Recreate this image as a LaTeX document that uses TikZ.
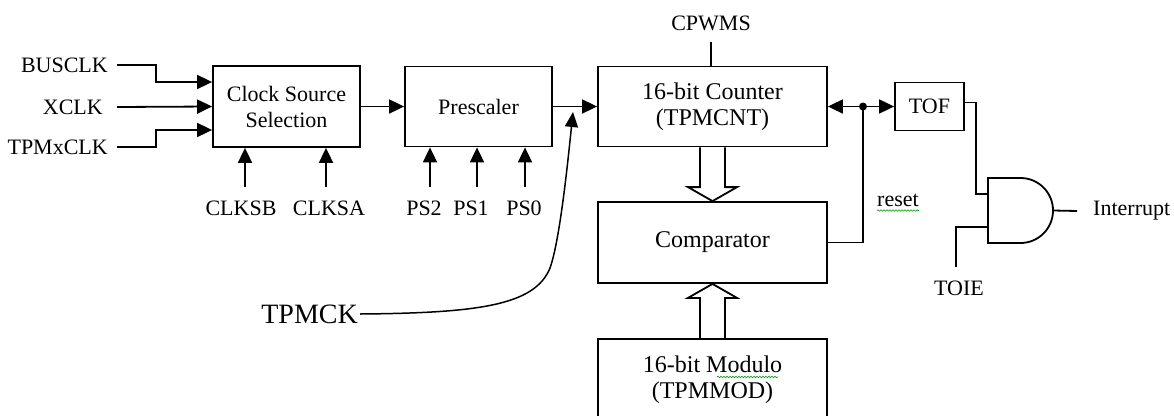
\documentclass[tikz,border=0pt]{standalone}
\usepackage{fontspec}
\setmainfont{Liberation Serif}
\usetikzlibrary{arrows.meta,calc,decorations.pathmorphing}
\begin{document}
\begin{tikzpicture}[x=1pt,y=-1pt,
  lw/.style={line width=1.8pt},
  blk/.style={draw,lw,inner sep=0pt,align=center,font=\fontsize{22}{26}\selectfont},
  bigblk/.style={blk,font=\fontsize{24}{26}\selectfont},
  lbl/.style={inner sep=0pt,font=\fontsize{22}{26}\selectfont},
  arr/.style={lw,-{Triangle[length=15pt,width=14pt]}},
  wire/.style={lw},
  hollow/.style={lw,line join=miter},
  squig/.style={draw=green!60!black,line width=0.6pt,decorate,decoration={snake,amplitude=0.8pt,segment length=3pt}}
]
\useasboundingbox (0,0) rectangle (1174,415);

% blocks
\node[blk,minimum width=147pt,minimum height=81pt] (css) at (286.5,106.5) {Clock Source\\Selection};
\node[blk,minimum width=147pt,minimum height=80pt] (pre) at (478.5,106.5) {Prescaler};
\node[bigblk,minimum width=229pt,minimum height=80pt] (cnt) at (712.5,106.5) {16-bit Counter\\(TPMCNT)};
\node[bigblk,minimum width=229pt,minimum height=81pt] (cmp) at (712.5,242.5) {Comparator};
\node[bigblk,minimum width=229pt,minimum height=81pt] (mod) at (712.5,379.5) {16-bit Modulo\\(TPMMOD)};
\node[blk,minimum width=69pt,minimum height=48pt] (tof) at (929.5,106.5) {TOF};

% input labels
\node[lbl,anchor=east,inner xsep=9pt] (bus) at (117,65) {BUSCLK};
\node[lbl,anchor=east,inner xsep=14pt] (xclk) at (117,107) {XCLK};
\node[lbl,anchor=east,inner xsep=9pt] (tpmx) at (117,147) {TPMxCLK};

\draw[arr] (bus.east) -| ($(css.west)+(-56,-24.5)$) -- ($(css.west)+(0,-24.5)$);
\draw[arr] (xclk.east) -- (css.west);
\draw[arr] (tpmx.east) -| ($(css.west)+(-56,23.5)$) -- ($(css.west)+(0,23.5)$);

% select lines
\node[lbl] (clksb) at (241,208) {CLKSB};
\node[lbl] (clksa) at (329,208) {CLKSA};
\coordinate (sb) at (245,187);
\coordinate (sa) at (326,187);
\draw[arr] (sb) -- (sb |- css.south);
\draw[arr] (sa) -- (sa |- css.south);

\node[lbl] (ps2) at (424,208) {PS2};
\node[lbl] (ps1) at (471,208) {PS1};
\node[lbl] (ps0) at (524,208) {PS0};
\coordinate (p2) at (430,187);
\coordinate (p1) at (477,187);
\coordinate (p0) at (525,187);
\draw[arr] (p2) -- (p2 |- pre.south);
\draw[arr] (p1) -- (p1 |- pre.south);
\draw[arr] (p0) -- (p0 |- pre.south);

% main chain
\draw[arr] (css.east) -- (pre.west);
\draw[arr] (pre.east) -- (cnt.west);

% CPWMS
\node[lbl] (cpwms) at (711,23) {CPWMS};
\coordinate (cp) at (711,42);
\draw[wire] (cp) -- (cp |- cnt.north);

% TPMCK
\node[lbl,font=\fontsize{28}{30}\selectfont,anchor=east,inner xsep=2pt] (tpmck) at (360,314) {TPMCK};
\coordinate (ck) at (573,112);
\draw[line width=1.5pt,-{Triangle[length=15pt,width=13pt]}] (tpmck.east) .. controls (480,313) and (535,305) .. (550,268)
  .. controls (560,240) and (568,160) .. (ck);

% hollow arrows
\draw[hollow] ($(cnt.south)+(-12.5,0)$) -- ($(cmp.north)+(-12.5,-14)$) -- ($(cmp.north)+(-24.5,-14)$)
  -- (cmp.north) -- ($(cmp.north)+(24.5,-14)$) -- ($(cmp.north)+(12.5,-14)$) -- ($(cnt.south)+(12.5,0)$);
\draw[hollow] ($(mod.north)+(-12.5,0)$) -- ($(cmp.south)+(-12.5,14)$) -- ($(cmp.south)+(-24.5,14)$)
  -- (cmp.south) -- ($(cmp.south)+(24.5,14)$) -- ($(cmp.south)+(12.5,14)$) -- ($(mod.north)+(12.5,0)$);

% overflow / reset
\coordinate (dot) at (863,106.5);
\draw[arr] (dot) -- (cnt.east);
\draw[arr] (dot) -- (tof.west);
\fill (dot) circle[radius=4pt];
\draw[wire] (dot) |- (cmp.east);
\node[lbl] (rst) at (898,200) {reset};
\draw[squig] ($(rst.south west)+(0,4)$) -- ($(rst.south east)+(0,4)$);
\draw[squig] (717,377) -- (778,377);

% AND gate
\coordinate (ga) at (988,194);
\coordinate (gb) at (988,227);
\coordinate (gout) at (1053,210.5);
\draw[lw] (988,178) -- (1020.5,178) .. controls (1038.45,178) and (1053,192.55) .. (gout)
  .. controls (1053,228.45) and (1038.45,243) .. (1020.5,243) -- (988,243) -- cycle;
\draw[wire] ($(tof.east)+(0,-4)$) -- ++(11,0) |- (ga);
\coordinate (te) at (956,267);
\draw[wire] (gb) -| (te);
\node[lbl] (toie) at (959,288) {TOIE};
\node[lbl,anchor=west,inner xsep=16pt] (intr) at (1077,211) {Interrupt};
\draw[wire] (gout) -- (intr.west);
\end{tikzpicture}
\end{document}
